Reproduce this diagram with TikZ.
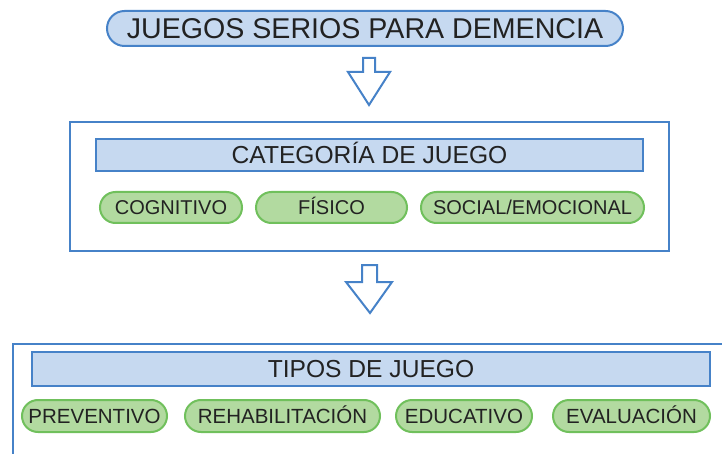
\documentclass[tikz,border=0pt]{standalone}
\usepackage{fontspec}
\setmainfont{Liberation Sans}
\definecolor{bblue}{RGB}{70,130,200}
\definecolor{lblue}{RGB}{198,217,240}
\definecolor{gfill}{RGB}{178,218,160}
\definecolor{gline}{RGB}{112,192,92}
\definecolor{txt}{RGB}{34,34,34}
\begin{document}
\begin{tikzpicture}[x=1pt,y=-1pt,
  title/.style={draw=bblue,fill=lblue,line width=2pt,rounded corners=17.5pt,
    minimum width=516pt,minimum height=35pt,inner sep=0pt,text=txt,
    font=\fontsize{28.6}{30}\selectfont,text height=20.5pt,text depth=0pt},
  frame/.style={draw=bblue,fill=white,line width=2.4pt,inner sep=0pt},
  header/.style={draw=bblue,fill=lblue,line width=2pt,inner sep=0pt,text=txt,
    font=\fontsize{24.6}{26}\selectfont,text height=17.6pt,text depth=0pt},
  pill/.style={draw=gline,fill=gfill,line width=2pt,rounded corners=15.5pt,
    minimum height=31pt,inner sep=0pt,text=txt,
    font=\fontsize{20}{22}\selectfont,text height=14.3pt,text depth=0pt},
  pillb/.style={pill,minimum height=32pt,rounded corners=16pt,
    font=\fontsize{20.5}{22}\selectfont,text height=14.7pt},
  blockarrow/.style={draw=bblue,fill=white,line width=2pt,line join=miter}]
\useasboundingbox (0,0) rectangle (722,454);
\clip (0,0) rectangle (722,454);
\fill[white] (0,0) rectangle (722,454);
% top
\node[title] (t) at (365,28.5) {JUEGOS SERIOS PARA DEMENCIA};
% arrow 1
\draw[blockarrow] (363,58) -- (375,58) -- (375,72) -- (390,72) -- (369,105) -- (348,72) -- (363,72) -- cycle;
% middle frame
\node[frame,minimum width=599pt,minimum height=129pt] (f1) at (369.5,186.5) {};
\node[header,minimum width=547pt,minimum height=32pt] (h1) at (369.5,155) {CATEGORÍA DE JUEGO};
\node[pill,minimum width=142pt] (p1) at (171,207.5) {COGNITIVO};
\node[pill,minimum width=151pt] (p2) at (331.5,207.5) {FÍSICO};
\node[pill,minimum width=223pt] (p3) at (532.5,207.5) {SOCIAL/EMOCIONAL};
% arrow 2
\draw[blockarrow] (362,265) -- (377,265) -- (377,282) -- (392,282) -- (370,313) -- (346,282) -- (362,282) -- cycle;
% bottom frame
\node[frame,minimum width=748pt,minimum height=137pt,anchor=north west] (f2) at (12,343) {};
\node[header,minimum width=678pt,minimum height=34pt] (h2) at (371,368.5) {TIPOS DE JUEGO};
\node[pillb,minimum width=145pt] (q1) at (94.5,416) {PREVENTIVO};
\node[pillb,minimum width=195pt] (q2) at (282.5,416) {REHABILITACIÓN};
\node[pillb,minimum width=136pt] (q3) at (464,416) {EDUCATIVO};
\node[pillb,minimum width=157pt] (q4) at (631.5,416) {EVALUACIÓN};
\end{tikzpicture}
\end{document}
